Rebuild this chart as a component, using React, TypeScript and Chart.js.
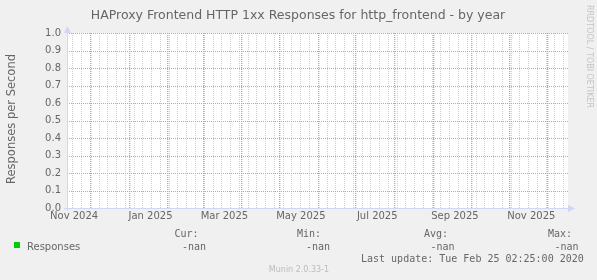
import React, { useEffect, useRef } from 'react';
import { Chart, registerables } from 'chart.js';

Chart.register(...registerables);

// ---- text ----
const TITLE = 'HAProxy Frontend HTTP 1xx Responses for http_frontend - by year';
const Y_TITLE = 'Responses per Second';
const SERIES_NAME = 'Responses';
const SERIES_COLOR = '#00cc00';
const LAST_UPDATE = 'Last update: Tue Feb 25 02:25:00 2020';
const FOOTER = 'Munin 2.0.33-1';
const WATERMARK = 'RRDTOOL / TOBI OETIKER';

// ---- axis data ----
const yTickValues = [0, 0.1, 0.2, 0.3, 0.4, 0.5, 0.6, 0.7, 0.8, 0.9, 1.0];
const monthStarts = [
  '2024-12-01', '2025-01-01', '2025-02-01', '2025-03-01', '2025-04-01', '2025-05-01',
  '2025-06-01', '2025-07-01', '2025-08-01', '2025-09-01', '2025-10-01', '2025-11-01', '2025-12-01',
];
const xLabelMonths = ['2024-11-01', '2025-01-01', '2025-03-01', '2025-05-01', '2025-07-01', '2025-09-01', '2025-11-01'];
const xLabels = ['Nov 2024', 'Jan 2025', 'Mar 2025', 'May 2025', 'Jul 2025', 'Sep 2025', 'Nov 2025'];
const RANGE_START = '2024-11-12T19:12:00Z';
const RANGE_DAYS = 400;

// ---- series data (all samples are NaN) ----
const sampleDates = ['2024-11-13', '2025-02-01', '2025-05-01', '2025-08-01', '2025-11-01', '2025-12-17'];
const responseValues: (number | null)[] = [null, null, null, null, null, null];

// ---- legend ----
const legendHeaders = ['Cur:', 'Min:', 'Avg:', 'Max:'];
const legendValues = ['-nan', '-nan', '-nan', '-nan'];

// ---- helpers ----
const EPOCH = Date.parse('2025-01-01T00:00:00Z');
const DAY = 86400000;
const toDay = (iso: string) => (Date.parse(iso.length <= 10 ? iso + 'T00:00:00Z' : iso) - EPOCH) / DAY;
const LABEL_SHIFT = 17.5;

const xMin = toDay(RANGE_START);
const xMax = xMin + RANGE_DAYS;

const tickKind = new Map<number, string>();
for (let d = Math.ceil(xMin); d <= xMax; d++) {
  if (new Date(EPOCH + d * DAY).getUTCDay() === 0) tickKind.set(d, 'week');
}
monthStarts.forEach((m) => tickKind.set(toDay(m), 'month'));
const labelByValue = new Map<number, string>();
xLabelMonths.forEach((m, i) => {
  const v = toDay(m) + LABEL_SHIFT;
  labelByValue.set(v, xLabels[i]);
  if (!tickKind.has(v)) tickKind.set(v, 'label');
});
const xTickValues = Array.from(tickKind.keys()).filter((v) => v >= xMin && v <= xMax).sort((a, b) => a - b);

const FONT = 'DejaVu Sans';
const MONO = 'DejaVu Sans Mono';
const TEXT = '#666666';
const AXIS = '#CFD6F8';
const MGRID = 'rgb(236,146,146)';
const MGRID_SOFT = 'rgba(236,146,146,0.35)';
const GRID = '#d0d0d0';

const decor = {
  id: 'decor',
  beforeDraw(chart: any) {
    const { ctx, chartArea: a } = chart;
    ctx.save();
    ctx.fillStyle = '#F0F0F0';
    ctx.fillRect(0, 0, chart.width, chart.height);
    ctx.fillStyle = '#FFFFFF';
    ctx.fillRect(a.left, a.top, a.right - a.left, a.bottom - a.top);
    ctx.restore();
  },
  beforeDatasetsDraw(chart: any) {
    const { ctx, chartArea: a } = chart;
    const xs = chart.scales.x;
    const ys = chart.scales.y;
    const top = Math.round(a.top);
    const bottom = Math.round(a.bottom);
    const left = Math.round(a.left);
    const right = Math.round(a.right);
    ctx.save();
    const vline = (v: number, color: string, soft?: string) => {
      const x = Math.round(xs.getPixelForValue(v));
      for (let y = top; y < bottom; y += 2) {
        ctx.fillStyle = color;
        ctx.fillRect(x, y, 1, 1);
        if (soft) {
          ctx.fillStyle = soft;
          ctx.fillRect(x + 1, y, 1, 1);
        }
      }
    };
    xs.ticks.forEach((t: any) => {
      if (tickKind.get(t.value) === 'week') vline(t.value, GRID);
    });
    xs.ticks.forEach((t: any) => {
      if (tickKind.get(t.value) === 'month') vline(t.value, MGRID, MGRID_SOFT);
    });
    ys.ticks.forEach((t: any) => {
      const y = Math.round(ys.getPixelForValue(t.value));
      for (let x = left; x < right; x += 2) {
        ctx.fillStyle = MGRID;
        ctx.fillRect(x, y, 1, 1);
      }
    });
    ctx.restore();
  },
  afterDraw(chart: any) {
    const { ctx, chartArea: a } = chart;
    ctx.save();
    // axes
    ctx.strokeStyle = AXIS;
    ctx.lineWidth = 1;
    ctx.beginPath();
    ctx.moveTo(a.left + 0.5, a.bottom + 3);
    ctx.lineTo(a.left + 0.5, a.top - 2);
    ctx.moveTo(a.left - 3, a.bottom + 0.5);
    ctx.lineTo(a.right + 2, a.bottom + 0.5);
    ctx.stroke();
    ctx.fillStyle = AXIS;
    ctx.beginPath();
    ctx.moveTo(a.left + 0.5, a.top - 7);
    ctx.lineTo(a.left - 3, a.top);
    ctx.lineTo(a.left + 4, a.top);
    ctx.closePath();
    ctx.fill();
    ctx.beginPath();
    ctx.moveTo(a.right + 7, a.bottom + 0.5);
    ctx.lineTo(a.right, a.bottom - 3);
    ctx.lineTo(a.right, a.bottom + 4);
    ctx.closePath();
    ctx.fill();

    // title
    ctx.fillStyle = TEXT;
    ctx.font = `12.5px "${FONT}"`;
    ctx.textAlign = 'center';
    ctx.textBaseline = 'alphabetic';
    ctx.fillText(TITLE, 298, 18.5);

    // y title
    ctx.save();
    ctx.translate(14.5, 119);
    ctx.rotate(-Math.PI / 2);
    ctx.font = `11.5px "${FONT}"`;
    ctx.textAlign = 'center';
    ctx.fillText(Y_TITLE, 0, 0);
    ctx.restore();

    // watermark
    ctx.save();
    ctx.translate(586.5, 5);
    ctx.rotate(Math.PI / 2);
    ctx.font = `8px "${FONT}"`;
    ctx.fillStyle = '#c4c4c4';
    ctx.textAlign = 'left';
    ctx.fillText(WATERMARK, 0, 0);
    ctx.restore();

    // legend
    ctx.fillStyle = SERIES_COLOR;
    ctx.fillRect(14, 242, 6, 6);
    ctx.fillStyle = TEXT;
    ctx.textAlign = 'left';
    ctx.font = `10px "${FONT}"`;
    ctx.fillText(SERIES_NAME, 27, 249.5);
    ctx.font = `10px "${MONO}"`;
    const headerX = [174.5, 297, 424, 548];
    const valueX = [182, 306, 430.5, 554.5];
    legendHeaders.forEach((h, i) => ctx.fillText(h, headerX[i], 237.3));
    legendValues.forEach((v, i) => ctx.fillText(v, valueX[i], 249.5));
    ctx.fillText(LAST_UPDATE, 361, 261.5);

    // footer
    ctx.font = `8px "${FONT}"`;
    ctx.fillStyle = '#bbbbbb';
    ctx.textAlign = 'center';
    ctx.fillText(FOOTER, 299, 272);
    ctx.restore();
  },
};

export default function App() {
  const ref = useRef<HTMLCanvasElement>(null);
  useEffect(() => {
    if (!ref.current) return;
    Chart.defaults.font.family = FONT;
    Chart.defaults.color = TEXT;
    const chart = new Chart(ref.current, {
      type: 'line',
      data: {
        datasets: [
          {
            label: SERIES_NAME,
            data: sampleDates.map((d, i) => ({ x: toDay(d), y: responseValues[i] })) as any,
            borderColor: SERIES_COLOR,
            backgroundColor: SERIES_COLOR,
            borderWidth: 1,
            pointRadius: 0,
            spanGaps: false,
          },
        ],
      },
      options: {
        responsive: false,
        animation: false,
        devicePixelRatio: 1,
        layout: { padding: { top: 33, right: 29, bottom: 0, left: 0 } },
        plugins: { legend: { display: false }, tooltip: { enabled: false }, title: { display: false } },
        scales: {
          x: {
            type: 'linear',
            min: xMin,
            max: xMax,
            afterBuildTicks: (s: any) => {
              s.ticks = xTickValues.map((v) => ({ value: v }));
            },
            afterFit: (s: any) => {
              s.height = 72;
            },
            ticks: {
              autoSkip: false,
              maxRotation: 0,
              minRotation: 0,
              padding: 2,
              font: { size: 10, family: FONT },
              color: TEXT,
              callback: (v: any) => labelByValue.get(v) ?? '',
            },
            grid: { display: false, drawTicks: false },
            border: { display: false },
          },
          y: {
            type: 'linear',
            min: 0,
            max: 1,
            afterBuildTicks: (s: any) => {
              s.ticks = yTickValues.map((v) => ({ value: v }));
            },
            afterFit: (s: any) => {
              s.width = 67;
            },
            ticks: {
              padding: 6,
              font: { size: 10, family: FONT },
              color: TEXT,
              callback: (v: any) => Number(v).toFixed(1),
            },
            grid: { display: false, drawTicks: false },
            border: { display: false },
          },
        },
      },
      plugins: [decor],
    });
    return () => chart.destroy();
  }, []);
  return (
    <div style={{ position: 'absolute', left: 0, top: 0, width: 597, height: 280 }}>
      <canvas ref={ref} width={597} height={280} style={{ display: 'block' }} />
    </div>
  );
}
